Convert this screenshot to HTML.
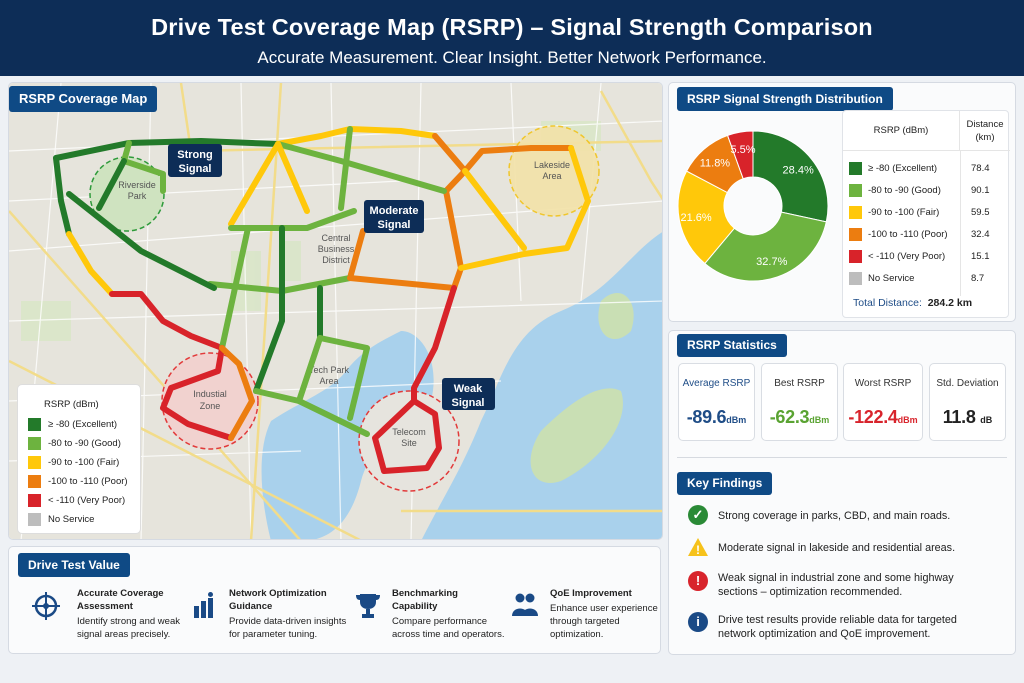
<!DOCTYPE html>
<html><head><meta charset="utf-8">
<style>
*{box-sizing:border-box;margin:0;padding:0}
body{width:1024px;height:683px;background:#eef1f5;font-family:"Liberation Sans",sans-serif;position:relative;overflow:hidden;color:#222}
.hdr{position:absolute;left:0;top:0;width:1024px;height:76px;background:#0d2d57;color:#fff;text-align:center}
.hdr h1{font-size:23.5px;font-weight:bold;padding-top:14px;letter-spacing:0.2px}
.hdr p{font-size:17px;margin-top:7px}
.panel{position:absolute;background:#fafbfc;border:1px solid #d5dae2;border-radius:5px}
.tag{position:absolute;background:#0f4a85;color:#fff;font-weight:bold;border-radius:3px;padding:0 10px;white-space:nowrap}
.card{position:absolute;top:363px;width:77px;height:78px;background:#fff;border:1px solid #d9dde3;border-radius:5px;text-align:center;white-space:nowrap}
.card .l{font-size:10px;margin-top:14px;color:#333}
.card .v{font-size:18px;font-weight:bold;margin-top:18px;letter-spacing:-0.3px}
.card .v small{font-size:9px;letter-spacing:0}
.find{position:absolute;left:718px;font-size:10.8px;line-height:14px;color:#222}
.ficon{position:absolute;left:688px;width:20px;height:20px;border-radius:50%;color:#fff;font-weight:bold;text-align:center;line-height:20px;font-size:13px}
.val{position:absolute;top:580px;font-size:9.5px;line-height:13px}
.val b{display:block;font-size:9.5px;margin-bottom:2px}
</style></head><body>
<div class="hdr">
<h1>Drive Test Coverage Map (RSRP) – Signal Strength Comparison</h1>
<p>Accurate Measurement. Clear Insight. Better Network Performance.</p>
</div>

<div class="panel" style="left:8px;top:82px;width:655px;height:458px;overflow:hidden">
<svg width="655" height="458" viewBox="8 82 655 458">
<rect x="8" y="82" width="655" height="458" fill="#e6e4dc"/>
<g fill="#d8e6c6" opacity="0.8">
<rect x="230" y="250" width="30" height="60"/><rect x="280" y="240" width="20" height="40"/><rect x="540" y="120" width="60" height="30"/><rect x="20" y="300" width="50" height="40"/>
</g>
<path d="M663,230 C630,250 610,290 560,310 C510,330 500,380 480,420 C460,470 440,500 420,540 L663,540 Z" fill="#a9d1ec"/>
<path d="M270,420 C300,400 330,390 345,370 C360,350 380,340 400,330 C420,330 440,360 430,400 C410,430 370,440 360,480 C350,520 330,540 300,540 L270,540 C260,500 255,450 270,420 Z" fill="#a9d1ec"/>
<path d="M540,430 C570,400 600,380 620,390 C630,420 600,460 560,480 C530,490 520,460 540,430Z" fill="#c9dfb4"/>
<path d="M600,300 C620,280 640,300 630,330 C610,350 590,330 600,300Z" fill="#c9dfb4"/>
<g stroke="#fff" stroke-width="1.2" opacity="0.8" fill="none">
<path d="M8,150 L663,120 M8,250 L663,200 M8,320 L663,300 M8,400 L500,380 M60,82 L20,540 M150,82 L140,540 M240,82 L250,540 M330,82 L340,540 M420,82 L410,540 M510,82 L520,300 M600,82 L580,300 M8,200 L400,180 M8,460 L300,450"/>
</g>
<g stroke="#f2dc8a" stroke-width="2.5" fill="none">
<path d="M8,210 L300,540 M180,82 L190,150 L663,140 M280,82 L250,540 M600,90 L650,180 L663,200 M400,510 L663,510 M8,360 L400,560"/>
</g>
<circle cx="126" cy="193" r="37" fill="#cfe3c0" stroke="#2e9a3a" stroke-width="1.5" stroke-dasharray="5 3"/>
<circle cx="553" cy="170" r="45" fill="#f3e2a8" stroke="#f2c31a" stroke-width="1.5" stroke-dasharray="5 3" opacity="0.9"/>
<circle cx="209" cy="400" r="48" fill="#f1d2cf" stroke="#e23a3a" stroke-width="1.5" stroke-dasharray="5 3"/>
<circle cx="408" cy="440" r="50" fill="#e6e4de" stroke="#e23a3a" stroke-width="1.5" stroke-dasharray="5 3"/>
<g fill="#555" font-size="9" text-anchor="middle">
<text x="136" y="187">Riverside</text><text x="136" y="198">Park</text>
<text x="335" y="240">Central</text><text x="335" y="251">Business</text><text x="335" y="262">District</text>
<text x="328" y="372">Tech Park</text><text x="328" y="383">Area</text>
<text x="209" y="396">Industial</text><text x="209" y="408">Zone</text>
<text x="551" y="167">Lakeside</text><text x="551" y="178">Area</text>
<text x="408" y="434">Telecom</text><text x="408" y="445">Site</text>
</g>
<g id="routes" fill="none" stroke-width="6" stroke-linecap="round" stroke-linejoin="round"></g>
<g font-size="11" font-weight="bold" fill="#fff" text-anchor="middle">
<rect x="167" y="143" width="54" height="33" rx="3" fill="#0d2d57"/><text x="194" y="157">Strong</text><text x="194" y="171">Signal</text>
<rect x="363" y="199" width="60" height="33" rx="3" fill="#0d2d57"/><text x="393" y="213">Moderate</text><text x="393" y="227">Signal</text>
<rect x="441" y="377" width="53" height="32" rx="3" fill="#0d2d57"/><text x="467" y="391">Weak</text><text x="467" y="405">Signal</text>
</g>
</svg>
<div class="tag" style="left:0;top:3px;height:26px;line-height:26px;font-size:13px">RSRP Coverage Map</div>
<div style="position:absolute;left:8px;top:301px;width:124px;height:150px;background:#fff;border-radius:5px;border:1px solid #ddd;font-size:9.5px" id="maplegend">
<div style="position:absolute;left:26px;top:14px">RSRP (dBm)</div>
</div>
</div>

<div class="panel" style="left:8px;top:546px;width:653px;height:108px">
<div class="tag" style="left:9px;top:6px;height:24px;line-height:24px;font-size:12px">Drive Test Value</div>
</div>
<svg style="position:absolute;left:30px;top:590px" width="32" height="32"><circle cx="16" cy="16" r="10" fill="none" stroke="#1a4a86" stroke-width="2.5"/><path d="M16,2V30M2,16H30" stroke="#1a4a86" stroke-width="2"/><circle cx="16" cy="16" r="3" fill="#1a4a86"/></svg>
<div class="val" style="left:77px;top:587px"><b>Accurate Coverage<br>Assessment</b>Identify strong and weak<br>signal areas precisely.</div>
<svg style="position:absolute;left:193px;top:592px" width="22" height="28"><g fill="#1a4a86"><rect x="1" y="14" width="5" height="12"/><rect x="8" y="9" width="5" height="17"/><rect x="15" y="6" width="5" height="20"/><circle cx="17.5" cy="2.5" r="2.5"/></g></svg>
<div class="val" style="left:229px;top:587px"><b>Network Optimization<br>Guidance</b>Provide data-driven insights<br>for parameter tuning.</div>
<svg style="position:absolute;left:355px;top:592px" width="26" height="28"><path d="M5,2H21V10C21,15 17,17 13,17C9,17 5,15 5,10Z M1,3H5V8C2,8 1,6 1,3Z M25,3H21V8C24,8 25,6 25,3Z M11,17H15V22H19V26H7V22H11Z" fill="#1a4a86"/></svg>
<div class="val" style="left:392px;top:587px"><b>Benchmarking<br>Capability</b>Compare performance<br>across time and operators.</div>
<svg style="position:absolute;left:512px;top:592px" width="26" height="26"><g fill="#1a4a86"><circle cx="8" cy="6" r="4.5"/><circle cx="18" cy="6" r="4.5"/><path d="M0,24C0,14 16,14 16,24Z"/><path d="M10,24C10,14 26,14 26,24Z"/></g></svg>
<div class="val" style="left:550px;top:587px"><b>QoE Improvement</b>Enhance user experience<br>through targeted<br>optimization.</div>

<div class="panel" style="left:668px;top:82px;width:348px;height:240px">
<div class="tag" style="left:8px;top:4px;height:24px;line-height:24px;font-size:12px">RSRP Signal Strength Distribution</div>
<div style="position:absolute;left:173px;top:27px;width:167px;height:208px;background:#fff;border:1px solid #e0e3e8;border-radius:4px" id="dtable">
<div style="position:absolute;left:0;top:0;width:117px;height:40px;border-right:1px solid #e5e5e5;border-bottom:1px solid #e5e5e5;font-size:9.5px;text-align:center;line-height:40px">RSRP (dBm)</div>
<div style="position:absolute;left:117px;top:0;width:50px;height:40px;border-bottom:1px solid #e5e5e5;font-size:9.5px;text-align:center;padding-top:7px;line-height:13px">Distance<br>(km)</div>
<div style="position:absolute;left:117px;top:40px;width:1px;height:145px;background:#e5e5e5"></div>
<div style="position:absolute;left:10px;top:186px;font-size:10.5px"><span style="color:#1f4d87">Total Distance:</span> &nbsp;<b style="font-weight:bold">284.2 km</b></div>
</div>
</div>
<svg id="pie" style="position:absolute;left:668px;top:118px" width="170" height="180"></svg>

<div class="panel" style="left:668px;top:330px;width:348px;height:325px">
<div class="tag" style="left:8px;top:3px;height:23px;line-height:23px;font-size:12px">RSRP Statistics</div>
<div style="position:absolute;left:8px;top:126px;width:330px;height:1px;background:#d6dae0"></div>
<div class="tag" style="left:8px;top:141px;height:23px;line-height:23px;font-size:12px">Key Findings</div>
</div>
<div class="card" style="left:678px"><div class="l" style="color:#1f4d87">Average RSRP</div><div class="v" style="color:#1f4d87">-89.6<small>dBm</small></div></div>
<div class="card" style="left:761px"><div class="l">Best RSRP</div><div class="v" style="color:#5aa332">-62.3<small>dBm</small></div></div>
<div class="card" style="left:843px;width:80px"><div class="l">Worst RSRP</div><div class="v" style="color:#d8242c">-122.4<small>dBm</small></div></div>
<div class="card" style="left:929px"><div class="l">Std. Deviation</div><div class="v" style="color:#222">11.8 <small>dB</small></div></div>

<div class="ficon" style="top:505px;background:#2a8a36">✓</div>
<div class="find" style="top:509px">Strong coverage in parks, CBD, and main roads.</div>
<svg style="position:absolute;left:687px;top:537px" width="22" height="20"><path d="M11,1L21,19H1Z" fill="#f6c21b"/><text x="11" y="17" font-size="12" font-weight="bold" fill="#fff" text-anchor="middle">!</text></svg>
<div class="find" style="top:541px">Moderate signal in lakeside and residential areas.</div>
<div class="ficon" style="top:571px;background:#d8242c">!</div>
<div class="find" style="top:571px">Weak signal in industrial zone and some highway<br>sections – optimization recommended.</div>
<div class="ficon" style="top:612px;background:#1a4a86">i</div>
<div class="find" style="top:613px">Drive test results provide reliable data for targeted<br>network optimization and QoE improvement.</div>

<script>
const categories=["≥ -80 (Excellent)","-80 to -90 (Good)","-90 to -100 (Fair)","-100 to -110 (Poor)","< -110 (Very Poor)","No Service"];
const distances=[78.4,90.1,59.5,32.4,15.1,8.7];
const pieShares=[28.4,32.7,21.6,11.8,5.5];
const colors=["#237a2a","#6db33f","#ffc80a","#ec7d10","#d8232a","#bdbdbd"];
const NS="http://www.w3.org/2000/svg";
const pie=document.getElementById('pie');
const cx=85,cy=88,R=75,r=29;
const tot=pieShares.reduce((a,b)=>a+b,0);
let a0=-Math.PI/2;
pieShares.forEach((v,i)=>{
 const a1=a0+v/tot*2*Math.PI;
 const big=(a1-a0)>Math.PI?1:0;
 const p=document.createElementNS(NS,'path');
 const P=(rad,a)=>(cx+rad*Math.cos(a))+","+(cy+rad*Math.sin(a));
 p.setAttribute('d',"M"+P(R,a0)+" A"+R+","+R+" 0 "+big+" 1 "+P(R,a1)+" L"+P(r,a1)+" A"+r+","+r+" 0 "+big+" 0 "+P(r,a0)+"Z");
 p.setAttribute('fill',colors[i]);p.setAttribute('stroke','#fff');p.setAttribute('stroke-width','1');
 
 
 pie.appendChild(p);
 const am=(a0+a1)/2,lr=(R+r)/2+6;
 const t=document.createElementNS(NS,'text');
 t.setAttribute('x',cx+lr*Math.cos(am));t.setAttribute('y',cy+lr*Math.sin(am)+4);
 t.setAttribute('fill','#fff');t.setAttribute('font-size','11');t.setAttribute('text-anchor','middle');
 t.textContent=v.toFixed(1)+"%";
 
 
 pie.appendChild(t);
 a0=a1;
});
const dt=document.getElementById('dtable');
categories.forEach((c,i)=>{
 const y=50+i*22;
 const row=document.createElement('div');
 row.style.cssText="position:absolute;left:6px;top:"+y+"px;width:155px;height:16px;font-size:9.5px;line-height:16px";
 row.innerHTML='<span style="position:absolute;left:0;top:1px;width:13px;height:13px;background:'+colors[i]+'"></span><span style="position:absolute;left:19px">'+c.replace('<','&lt;')+'</span><span style="position:absolute;left:122px">'+distances[i].toFixed(1)+'</span>';
 
 
 dt.appendChild(row);
});
const ml=document.getElementById('maplegend');
categories.forEach((c,i)=>{
 const row=document.createElement('div');
 row.style.cssText="position:absolute;left:10px;top:"+(33+i*19)+"px;height:14px;line-height:14px;white-space:nowrap";
 row.innerHTML='<span style="position:absolute;left:0;top:0;width:13px;height:13px;background:'+colors[i]+'"></span><span style="position:absolute;left:20px">'+c.replace('<','&lt;')+'</span>';
 
 
 ml.appendChild(row);
});
const routes=[
 [0,"55,157 60,200 68,233"],[2,"68,233 90,270 111,293"],
 [0,"55,157 128,142 200,140 277,143"],[1,"128,142 123,160 162,173 162,190"],[0,"123,160 98,207"],
 [2,"277,143 320,135 349,128"],[2,"349,128 400,130 434,135"],
 [3,"434,135 464,170 445,190 460,267 453,287"],
 [3,"464,170 481,150 530,147 570,147"],[2,"570,147 587,200 566,247 523,253 460,267"],[2,"464,170 523,247"],
 [1,"277,143 340,160 443,190"],[1,"349,128 340,207"],
 [2,"277,143 230,223"],[2,"277,143 306,210"],[1,"230,227 306,227 353,210"],
 [3,"362,230 349,277"],[1,"209,283 281,290 349,277"],[3,"349,277 453,287"],
 [0,"68,193 140,250 213,287"],[4,"111,293 140,293 162,320 190,335 221,347"],
 [1,"247,227 221,347"],[0,"281,227 281,320 255,390"],
 [0,"319,287 319,337"],[1,"319,337 366,347 349,417"],[1,"319,337 298,400"],[1,"255,390 298,400 366,433"],
 [4,"453,287 434,347 413,387 413,400"],
 [4,"413,400 434,413 438,447 426,467 383,470 374,437 413,400"],
 [4,"221,347 217,370 170,387 162,407 187,423 230,437"],[3,"230,437 251,400 238,363 221,347"]
];
const rg=document.getElementById('routes');
routes.forEach(([ci,pts])=>{
 const pl=document.createElementNS(NS,'polyline');
 pl.setAttribute('points',pts);pl.setAttribute('stroke',colors[ci]);
 
 
 rg.appendChild(pl);
});
</script>
</body></html>
